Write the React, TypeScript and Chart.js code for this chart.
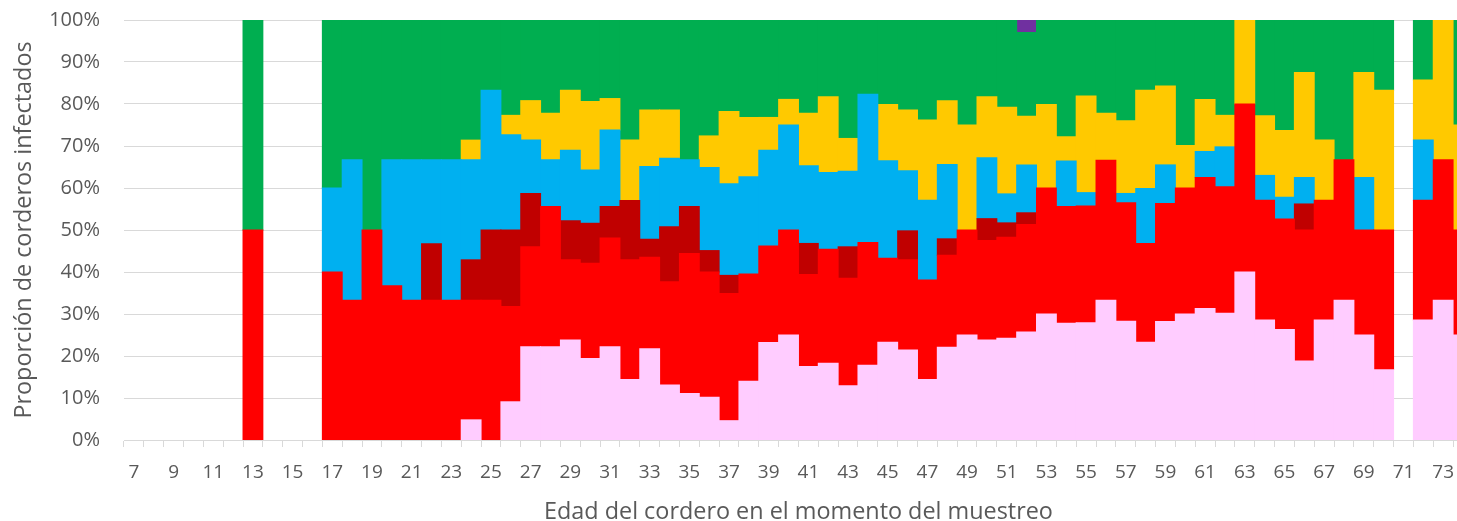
import React, { useEffect, useRef } from "react";
import { Chart, registerables } from "chart.js";

Chart.register(...registerables);

const ages: number[] = [7,8,9,10,11,12,13,14,15,16,17,18,19,20,21,22,23,24,25,26,27,28,29,30,31,32,33,34,35,36,37,38,39,40,41,42,43,44,45,46,47,48,49,50,51,52,53,54,55,56,57,58,59,60,61,62,63,64,65,66,67,68,69,70,71,72,73,74];

const pink: number[] = [
  0,0,0,0,0,0,0,0,0,0,
  0,0,0,0,0,0,0,4.8,0,9.1,
  22.2,22.2,23.8,19.4,22.2,14.4,21.7,13.1,11.1,10.2,
  4.6,14.0,23.2,25,17.5,18.3,12.9,17.8,23.3,21.4,
  14.4,22.1,25,23.8,24.2,25.7,30,27.8,27.9,33.3,
  28.3,23.3,28.2,30,31.3,30.2,40,28.6,26.3,18.8,
  28.6,33.3,25,16.7,0,28.6,33.3,25,
];
const red: number[] = [
  0,0,0,0,0,0,50,0,0,0,
  40,33.3,50,36.7,33.3,33.3,33.3,28.5,33.3,22.7,
  23.8,33.4,19.1,22.7,25.9,28.5,21.8,24.6,33.3,29.8,
  30.3,25.5,23.0,25,21.9,27.1,25.6,29.2,20.0,21.5,
  23.7,21.9,25,23.7,24.1,25.6,30,27.8,27.8,33.3,
  28.2,23.5,28.1,30,31.2,30.1,40,28.5,26.3,31.2,
  28.5,33.4,25,33.3,0,28.5,33.4,25,
];
const darkRed: number[] = [
  0,0,0,0,0,0,0,0,0,0,
  0,0,0,0,0,13.4,0,9.6,16.7,18.2,
  12.7,0,9.3,9.5,7.5,14.1,4.3,13.1,11.2,5.1,
  4.3,0,0,0,7.4,0,7.5,0,0,6.9,
  0,3.9,0,5.2,3.4,2.8,0,0,0,0,
  0,0,0,0,0,0,0,0,0,6.2,
  0,0,0,0,0,0,0,0,
];
const blue: number[] = [
  0,0,0,0,0,0,0,0,0,0,
  20,33.4,0,30,33.4,20,33.4,23.8,33.3,22.7,
  12.7,11.1,16.8,12.7,18.2,0,17.3,16.3,11.1,19.8,
  21.8,23.2,22.8,25,18.5,18.3,18.0,35.3,23.2,14.3,
  19.0,17.7,0,14.5,6.9,11.4,0,10.8,3.2,0,
  2.2,13.1,9.2,0,6.2,9.5,0,5.9,5.2,6.3,
  0,0,12.5,0,0,14.3,0,0,
];
const yellow: number[] = [
  0,0,0,0,0,0,0,0,0,0,
  0,0,0,0,0,0,0,4.7,0,4.6,
  9.4,11.1,14.3,16.3,7.5,14.4,13.5,11.5,0,7.5,
  17.2,14.1,7.8,6.1,12.5,18.0,7.8,0,13.4,14.5,
  19.1,15.2,25,14.5,20.6,11.6,19.9,5.8,23.0,11.2,
  17.3,23.4,18.8,10.1,12.4,7.5,20,14.2,15.9,25,
  14.3,0,25,33.3,0,14.3,33.3,25,
];
const green: number[] = [
  0,0,0,0,0,0,50,0,0,0,
  40,33.3,50,33.3,33.3,33.3,33.3,28.6,16.7,22.7,
  19.2,22.2,16.7,19.4,18.7,28.6,21.4,21.4,33.3,27.6,
  21.8,23.2,23.2,18.9,22.2,18.3,28.2,17.7,20.1,21.4,
  23.8,19.2,25,18.3,20.8,19.9,20.2,27.8,18.1,22.4,
  24.0,16.7,15.7,30,18.9,22.7,0,22.9,26.3,12.5,
  28.6,33.3,12.5,16.7,0,14.3,0,25,
];
const purple: number[] = [
  0,0,0,0,0,0,0,0,0,0,
  0,0,0,0,0,0,0,0,0,0,
  0,0,0,0,0,0,0,0,0,0,
  0,0,0,0,0,0,0,0,0,0,
  0,0,0,0,0,3.0,0,0,0,0,
  0,0,0,0,0,0,0,0,0,0,
  0,0,0,0,0,0,0,0,
];

const seriesList = [
  { name: "S1", data: pink, color: "#FFCCFF" },
  { name: "S2", data: red, color: "#FF0000" },
  { name: "S3", data: darkRed, color: "#C00000" },
  { name: "S4", data: blue, color: "#00B0F0" },
  { name: "S5", data: yellow, color: "#FFC900" },
  { name: "S6", data: green, color: "#00AE50" },
  { name: "S7", data: purple, color: "#7030A0" },
];

const FONT = "'Open Sans', sans-serif";
const TEXT = "#595959";

export default function App() {
  const ref = useRef<HTMLCanvasElement | null>(null);
  useEffect(() => {
    if (!ref.current) return;
    const chart = new Chart(ref.current, {
      type: "bar",
      data: {
        labels: ages.map(String),
        datasets: seriesList.map((s) => ({
          label: s.name,
          data: s.data.map((v) => (v === 0 ? null : v)),
          backgroundColor: s.color,
          borderWidth: 0,
          inflateAmount: 0.5,
          barPercentage: 1,
          categoryPercentage: 1,
        })),
      },
      options: {
        animation: false,
        responsive: true,
        maintainAspectRatio: false,
        layout: { padding: { top: 20, left: 0, right: 0, bottom: 0 } },
        plugins: { legend: { display: false }, tooltip: { enabled: false } },
        scales: {
          x: {
            stacked: true,
            afterFit: (s: any) => { s.height = 81; },
            grid: { display: true, drawOnChartArea: false, drawTicks: true, tickLength: 7, color: "#D9D9D9", offset: true },
            border: { display: true, color: "#D9D9D9", width: 1 },
            ticks: {
              autoSkip: false,
              maxRotation: 0,
              minRotation: 0,
              padding: 14,
              color: TEXT,
              font: { family: FONT, size: 19 },
              callback: (_v: any, i: number) => (ages[i] % 2 === 1 ? String(ages[i]) : ""),
            },
            title: {
              display: true,
              text: "Edad del cordero en el momento del muestreo",
              color: TEXT,
              font: { family: FONT, size: 23.4, lineHeight: 1 },
              padding: { top: 0, bottom: -3 },
            },
          },
          y: {
            stacked: true,
            min: 0,
            max: 100,
            afterFit: (s: any) => { s.width = 124; },
            grid: { color: "#D9D9D9", lineWidth: 1, drawTicks: true, tickLength: 22, tickColor: "rgba(0,0,0,0)" },
            border: { display: false },
            ticks: {
              stepSize: 10,
              padding: 2,
              color: TEXT,
              font: { family: FONT, size: 20 },
              callback: (v: any) => v + "%",
            },
            title: {
              display: true,
              text: "Proporción de corderos infectados",
              color: TEXT,
              font: { family: FONT, size: 23.4, lineHeight: 1.2 },
              padding: { top: 10, bottom: 0 },
            },
          },
        },
      },
    });
    return () => chart.destroy();
  }, []);
  return (
    <div style={{ position: "fixed", left: 0, top: 0, width: 1457, height: 521, overflow: "hidden", background: "#fff" }}>
      <div style={{ position: "relative", width: 1477, height: 521 }}>
        <canvas ref={ref} />
      </div>
    </div>
  );
}
